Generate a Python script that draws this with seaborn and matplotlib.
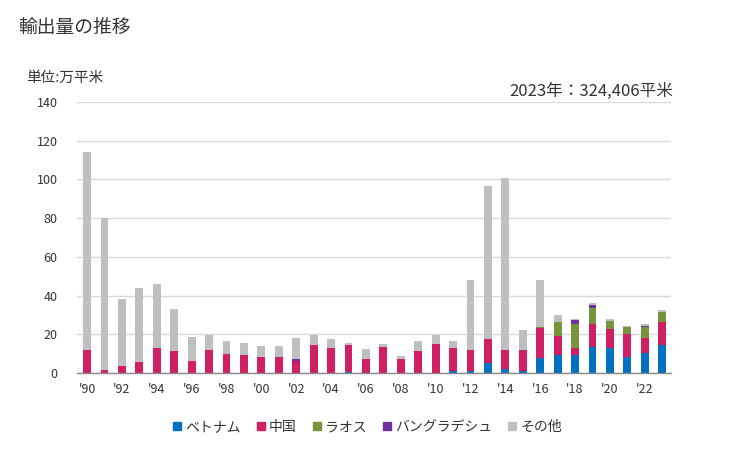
#!/usr/bin/env python3

import matplotlib

matplotlib.use("Agg")

import matplotlib.pyplot as plt
from matplotlib.lines import Line2D
import pandas as pd
import seaborn as sns

years = list(range(1990, 2024))

vietnam = [0, 0, 0, 0, 0, 0, 0, 0, 0, 0, 0, 0, 0, 0, 0, 0.5, 0, 0, 0, 0,
           0, 0.9, 0.9, 5.2, 2.1, 1.0, 7.7, 9.3, 9.3, 13.4, 12.9, 8.3, 10.3, 14.5]
china = [11.9, 1.5, 3.6, 5.7, 12.9, 11.4, 6.2, 11.9, 9.8, 9.3, 8.3, 8.3, 6.2, 14.5, 12.9, 14.0, 7.2, 13.4, 7.2, 11.4,
         15.0, 12.0, 11.0, 12.4, 9.8, 10.9, 15.5, 9.8, 3.6, 11.9, 9.8, 11.8, 7.8, 11.9]
laos = [0, 0, 0, 0, 0, 0, 0, 0, 0, 0, 0, 0, 0, 0, 0, 0, 0, 0, 0, 0,
        0, 0, 0, 0, 0, 0, 0.5, 7.3, 12.4, 8.3, 4.2, 3.7, 5.7, 5.1]
bangladesh = [0, 0, 0, 0, 0, 0, 0, 0, 0, 0, 0, 0, 1.0, 0, 0, 0, 0, 0, 0, 0,
              0, 0, 0, 0, 0, 0, 0, 0, 2.1, 1.5, 0, 0, 0.5, 0]
other = [102.3, 78.6, 34.6, 38.2, 33.1, 21.7, 12.4, 7.7, 6.7, 6.2, 5.7, 5.7, 10.9, 5.1, 4.7, 1.0, 5.2, 1.6, 1.6, 5.1,
         4.6, 3.6, 36.1, 79.0, 88.8, 10.3, 24.3, 3.6, 0.5, 1.1, 1.0, 0.5, 1.0, 0.9]

series = ["ベトナム", "中国", "ラオス", "バングラデシュ", "その他"]
colors = ["#0070C0", "#D01F63", "#77933C", "#7030A0", "#BFBFBF"]
tick_years = list(range(1990, 2024, 2))


def main():
    sns.set_style("white")
    plt.rcParams["font.family"] = ["Noto Sans CJK JP", "DejaVu Sans"]

    df = pd.concat(
        [
            pd.DataFrame({"year": years, "value": values, "country": name})
            for name, values in zip(series, [vietnam, china, laos, bangladesh, other])
        ],
        ignore_index=True,
    )

    fig = plt.figure(figsize=(7.29, 4.5), dpi=100)
    ax = fig.add_axes([0.1056, 0.1711, 0.8148, 0.6022])

    sns.histplot(
        data=df,
        x="year",
        weights="value",
        hue="country",
        hue_order=series[::-1],
        palette=dict(zip(series, colors)),
        multiple="stack",
        discrete=True,
        shrink=0.45,
        linewidth=0,
        alpha=1,
        legend=False,
        ax=ax,
    )

    ax.set_ylim(0, 140)
    ax.set_xlim(1989.42, 2023.5)
    ax.set_yticks(range(0, 141, 20))
    ax.set_xticks(tick_years)
    ax.set_xticklabels([f"'{y % 100:02d}" for y in tick_years])
    ax.set_xlabel("")
    ax.set_ylabel("")
    ax.grid(axis="y", color="#D9D9D9", linewidth=1)
    ax.set_axisbelow(True)
    for side in ["left", "right", "top"]:
        ax.spines[side].set_visible(False)
    ax.spines["bottom"].set_color("#898989")
    ax.spines["bottom"].set_linewidth(1)
    ax.tick_params(axis="both", length=0, labelsize=9, colors="#333333")
    ax.tick_params(axis="y", pad=14)
    ax.tick_params(axis="x", pad=7)

    fig.text(0.025, 0.94, "輸出量の推移", fontsize=13.5, color="#333333", va="center")
    fig.text(0.036, 0.826, "単位:万平米", fontsize=10.5, color="#333333", va="center")
    fig.text(0.923, 0.796, "2023年：324,406平米", fontsize=12, color="#333333",
             va="center", ha="right")

    handles = [
        Line2D([], [], marker="s", linestyle="", markersize=6, color=c, label=n)
        for n, c in zip(series, colors)
    ]
    fig.legend(
        handles=handles,
        loc="center",
        bbox_to_anchor=(0.503, 0.051),
        ncol=5,
        frameon=False,
        fontsize=10,
        handlelength=0.8,
        handletextpad=0.2,
        columnspacing=1.05,
        labelcolor="#333333",
    )

    plt.savefig("out.png", dpi=100)
    plt.close()


if __name__ == "__main__":
    main()
